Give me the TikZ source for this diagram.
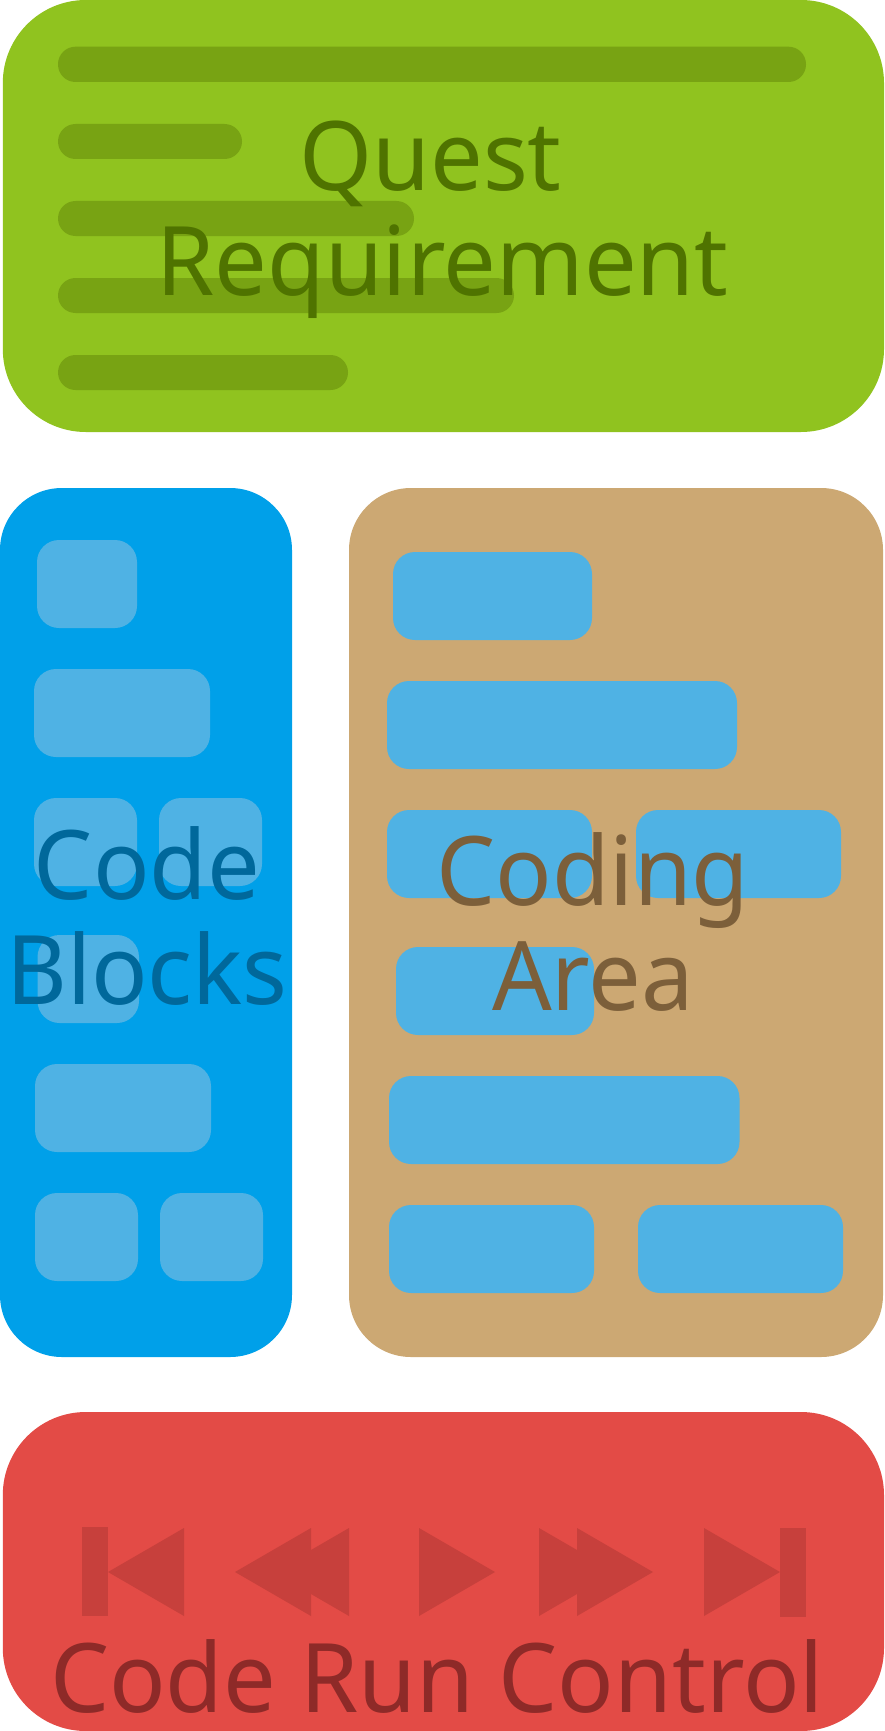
\documentclass[tikz,border=0pt]{standalone}
\usepackage{fontspec}
\setmainfont[FakeStretch=0.975]{Noto Sans}
\definecolor{cgreen}{HTML}{90C31F}
\definecolor{cbar}{HTML}{78A313}
\definecolor{cgtext}{HTML}{4F7300}
\definecolor{cblue}{HTML}{00A0E9}
\definecolor{ctan}{HTML}{CCA873}
\definecolor{clight}{HTML}{4FB2E4}
\definecolor{cbtext}{HTML}{00689B}
\definecolor{cttext}{HTML}{7C5F3A}
\definecolor{cred}{HTML}{E34B46}
\definecolor{cicon}{HTML}{C7403C}
\definecolor{crtext}{HTML}{8E2A28}
\tikzset{
  panelbig/.style={rounded corners=83pt},
  panelmid/.style={rounded corners=62pt},
  blockbox/.style={fill=clight,rounded corners=22pt},
  barbox/.style={fill=cbar,rounded corners=17.5pt},
  iconshape/.style={fill=cicon},
  label/.style={font=\fontsize{96}{105}\selectfont,align=center,anchor=base,inner sep=0pt},
}
\begin{document}
\begin{tikzpicture}[x=1pt,y=-1pt]
\useasboundingbox (0,0) rectangle (884,1731);
% panels
\fill[cgreen,panelbig] (2.8,0) rectangle (884,432);
\fill[cblue,panelmid] (0,488) rectangle (292,1357);
\fill[ctan,panelmid] (349,488) rectangle (883,1357);
\fill[cred,panelbig] (2.8,1412) rectangle (884,1731);
% text bars
\fill[barbox] (58,46.7) rectangle (806,82);
\fill[barbox] (58,124) rectangle (242,159);
\fill[barbox] (58,201) rectangle (414,236);
\fill[barbox] (58,278) rectangle (514,313);
\fill[barbox] (58,355) rectangle (348,390);
% code blocks
\fill[blockbox] (37,540) rectangle (137,628);
\fill[blockbox] (34,669) rectangle (210,757);
\fill[blockbox] (34,798) rectangle (137,886);
\fill[blockbox] (159,798) rectangle (262,886);
\fill[blockbox] (37.5,935) rectangle (139,1023);
\fill[blockbox] (35,1064) rectangle (211,1152);
\fill[blockbox] (35,1193) rectangle (138,1281);
\fill[blockbox] (160,1193) rectangle (263,1281);
% coding area
\fill[blockbox] (393,552) rectangle (592,640);
\fill[blockbox] (387,681) rectangle (737,769);
\fill[blockbox] (387,810) rectangle (592,898);
\fill[blockbox] (636,810) rectangle (841,898);
\fill[blockbox] (396,947) rectangle (594,1035);
\fill[blockbox] (389,1076) rectangle (739.5,1164);
\fill[blockbox] (389,1205) rectangle (594,1293);
\fill[blockbox] (638,1205) rectangle (843,1293);
% icons
\fill[iconshape] (82,1527) rectangle (108,1616);
\fill[iconshape] (108,1572) -- (184,1528) -- (184,1616) -- cycle;
\fill[iconshape] (235,1572) -- (311,1528) -- (311,1616) -- cycle;
\fill[iconshape] (273,1572) -- (349,1528) -- (349,1616) -- cycle;
\fill[iconshape] (419,1528) -- (495,1572) -- (419,1616) -- cycle;
\fill[iconshape] (539,1528) -- (615,1572) -- (539,1616) -- cycle;
\fill[iconshape] (577,1528) -- (653,1572) -- (577,1616) -- cycle;
\fill[iconshape] (704,1528) -- (780,1572) -- (704,1616) -- cycle;
\fill[iconshape] (780,1528) rectangle (806,1617);
% labels
\node[label,text=cgtext] (quest) at (442.5,295) {Quest\kern 24pt\\Requirement};
\node[label,text=cbtext] (blocks) at (147,1004) {Code\\Blocks};
\node[label,text=cttext] (coding) at (593,1010) {Coding\\Area};
\node[label,text=crtext] (run) at (437,1712) {Code Run Control};
\end{tikzpicture}
\end{document}
